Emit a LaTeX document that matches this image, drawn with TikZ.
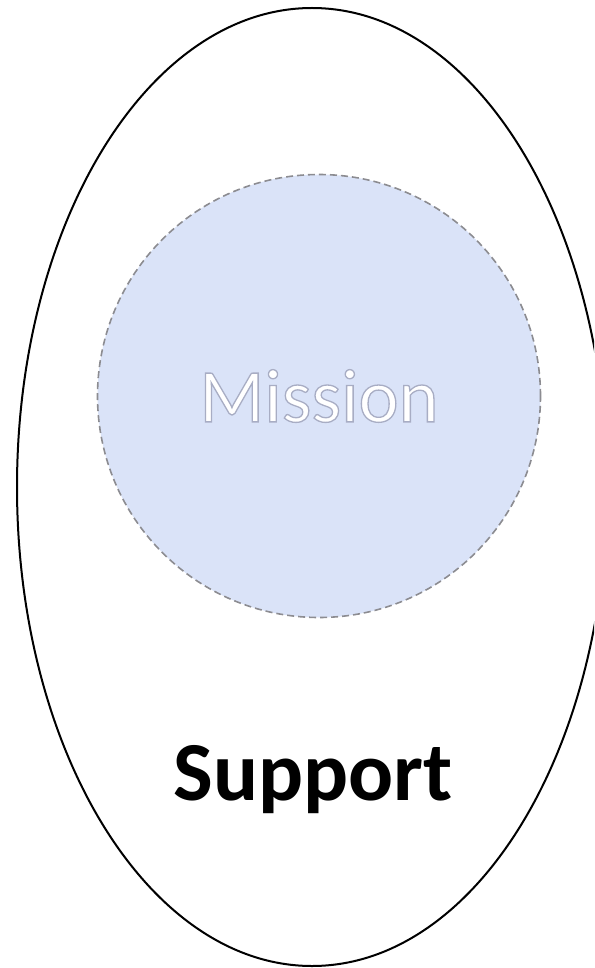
\documentclass[tikz,border=0pt]{standalone}
\usepackage{fontspec}
\setmainfont{Carlito}
\usepackage{xcolor}
\usetikzlibrary{positioning}
\definecolor{missionfill}{RGB}{218,227,248}
\definecolor{missionline}{RGB}{140,140,145}
% white letters with a soft grey rim
\newcommand{\glowtext}[1]{\special{pdf:literal direct 2 Tr 1.3 w 0.66 0.68 0.77 RG}#1\special{pdf:literal direct 0 Tr 0 w}}

\begin{document}
\begin{tikzpicture}[x=1pt, y=-1pt]
                        \path[use as bounding box, clip] (0, 0) rectangle (594, 968);
                        \draw[line width=2pt] (312, 487) ellipse [x radius=295pt, y radius=479pt];
                        \node[circle, draw=missionline, dash pattern=on 7pt off 4pt, line width=1.6pt,
                              fill=missionfill, minimum size=443pt, inner sep=0pt] (mission) at (319, 396) {};
                        \node[text=white, font=\fontsize{76}{80}\selectfont] (nm) at (mission.center)
                            {\glowtext{Mission}};
                        \node[anchor=base, font=\fontsize{84}{90}\selectfont\bfseries] (ns) at (313, 800) {Support};
                    \end{tikzpicture}
\end{document}
